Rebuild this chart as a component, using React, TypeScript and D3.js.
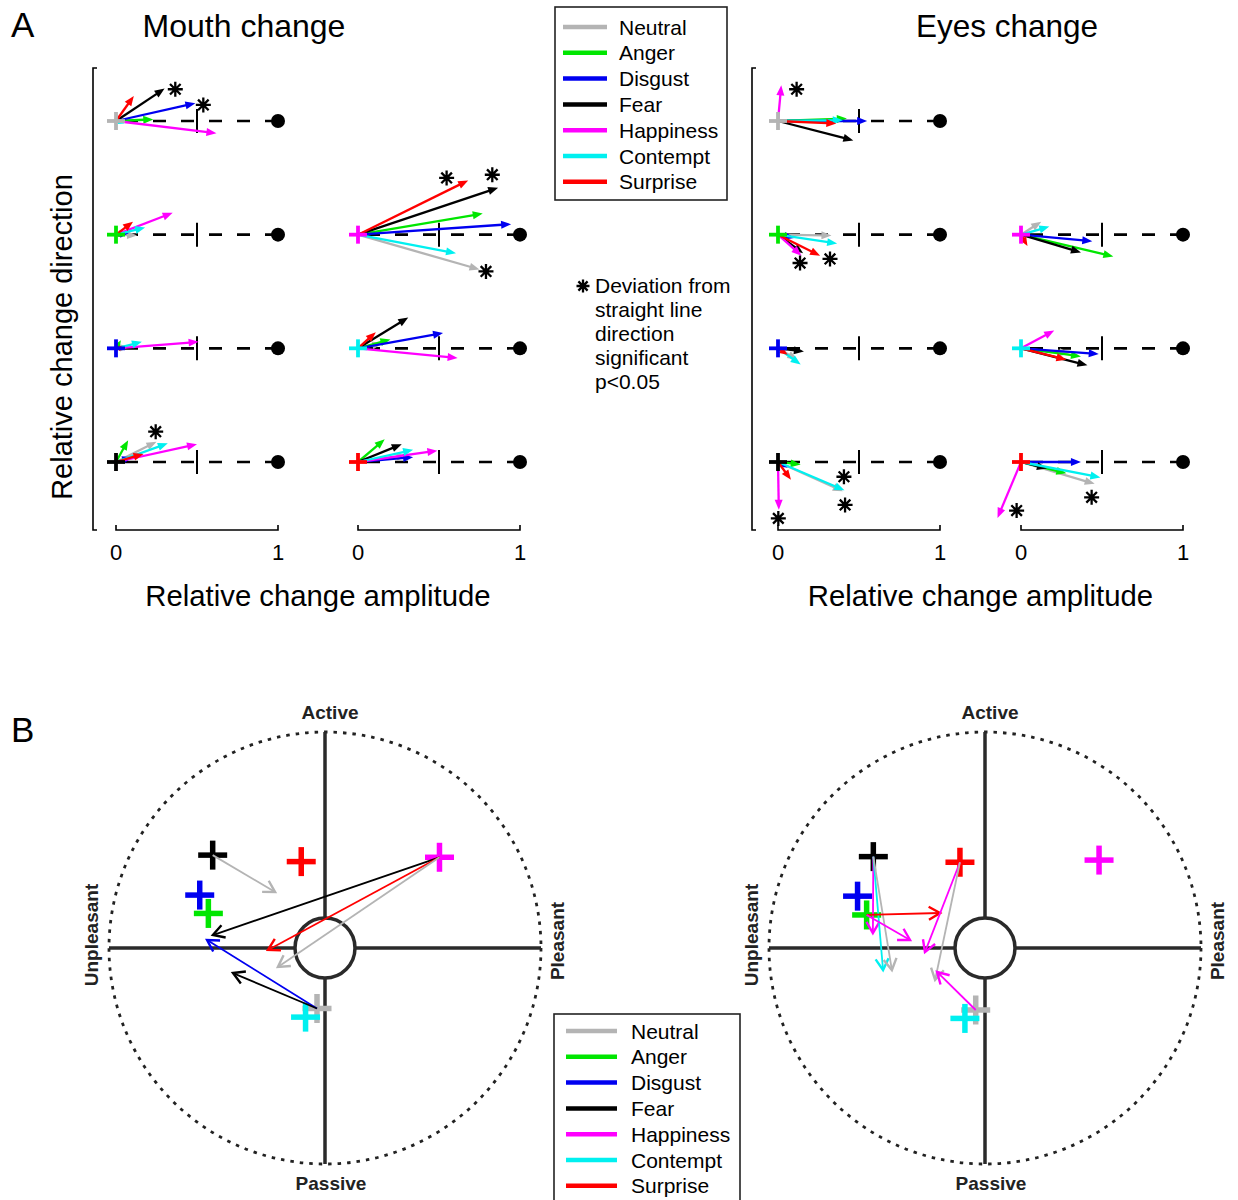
import React from 'react';
import * as d3 from 'd3';

// emotions, in legend order
const emotions = ['Neutral', 'Anger', 'Disgust', 'Fear', 'Happiness', 'Contempt', 'Surprise'];
const emotionColors: Record<string, string> = {
  Neutral: '#b4b4b4',
  Anger: '#00e600',
  Disgust: '#0000f0',
  Fear: '#000000',
  Happiness: '#ff00ff',
  Contempt: '#00f0f0',
  Surprise: '#ff0000',
};

// Panel A: [target emotion, relative amplitude, relative direction] per start emotion
const mouthArrows: Record<string, [string, number, number][]> = {
  Neutral: [['Anger', 0.23, 0.01], ['Disgust', 0.49, 0.11], ['Fear', 0.3, 0.2], ['Happiness', 0.62, -0.075], ['Contempt', 0.05, -0.015], ['Surprise', 0.11, 0.155]],
  Anger: [['Neutral', 0.13, -0.005], ['Disgust', 0.08, 0.01], ['Fear', 0.05, 0.0], ['Happiness', 0.35, 0.135], ['Contempt', 0.18, 0.045], ['Surprise', 0.105, 0.08]],
  Disgust: [['Neutral', 0.08, 0.01], ['Anger', 0.03, 0.05], ['Fear', 0.04, 0.01], ['Happiness', 0.51, 0.04], ['Contempt', 0.16, 0.04], ['Surprise', 0.06, 0.0]],
  Fear: [['Neutral', 0.25, 0.125], ['Anger', 0.075, 0.135], ['Disgust', 0.1, 0.03], ['Happiness', 0.5, 0.11], ['Contempt', 0.32, 0.115], ['Surprise', 0.17, 0.05]],
  Happiness: [['Neutral', 0.75, -0.215], ['Anger', 0.77, 0.13], ['Disgust', 0.945, 0.065], ['Fear', 0.865, 0.29], ['Contempt', 0.605, -0.115], ['Surprise', 0.68, 0.335]],
  Contempt: [['Neutral', 0.15, 0.03], ['Anger', 0.2, 0.055], ['Disgust', 0.525, 0.095], ['Fear', 0.31, 0.19], ['Happiness', 0.615, -0.06], ['Surprise', 0.11, 0.1]],
  Surprise: [['Neutral', 0.3, 0.04], ['Anger', 0.165, 0.14], ['Disgust', 0.34, 0.03], ['Fear', 0.27, 0.11], ['Happiness', 0.49, 0.07], ['Contempt', 0.34, 0.075]],
};

const eyesArrows: Record<string, [string, number, number][]> = {
  Neutral: [['Anger', 0.425, 0.015], ['Disgust', 0.55, 0.0], ['Fear', 0.465, -0.12], ['Happiness', 0.02, 0.22], ['Contempt', 0.4, 0.005], ['Surprise', 0.36, -0.015]],
  Anger: [['Neutral', 0.33, -0.005], ['Disgust', 0.1, -0.02], ['Fear', 0.155, -0.115], ['Happiness', 0.145, -0.13], ['Contempt', 0.365, -0.055], ['Surprise', 0.26, -0.13]],
  Disgust: [['Neutral', 0.12, -0.07], ['Anger', 0.05, -0.01], ['Fear', 0.16, -0.02], ['Happiness', 0.03, -0.02], ['Contempt', 0.14, -0.1], ['Surprise', 0.06, -0.04]],
  Fear: [['Neutral', 0.4, -0.18], ['Anger', 0.14, -0.015], ['Disgust', 0.06, -0.035], ['Happiness', 0.005, -0.295], ['Contempt', 0.41, -0.175], ['Surprise', 0.08, -0.11]],
  Happiness: [['Neutral', 0.125, 0.08], ['Anger', 0.57, -0.135], ['Disgust', 0.44, -0.04], ['Fear', 0.37, -0.11], ['Contempt', 0.175, 0.05], ['Surprise', 0.04, -0.07]],
  Contempt: [['Neutral', 0.3, -0.03], ['Anger', 0.37, -0.05], ['Disgust', 0.48, -0.035], ['Fear', 0.41, -0.105], ['Happiness', 0.205, 0.11], ['Surprise', 0.28, -0.07]],
  Surprise: [['Neutral', 0.455, -0.135], ['Anger', 0.28, -0.07], ['Disgust', 0.37, 0.0], ['Fear', 0.16, -0.04], ['Happiness', -0.145, -0.345], ['Contempt', 0.49, -0.095]],
};

// significance markers (asterisks), in the same amplitude/direction units
const mouthSig: [string, number, number][] = [
  ['Neutral', 0.366, 0.196], ['Neutral', 0.539, 0.099],
  ['Happiness', 0.547, 0.35], ['Happiness', 0.829, 0.37], ['Happiness', 0.79, -0.227],
  ['Fear', 0.245, 0.187],
];
const eyesSig: [string, number, number][] = [
  ['Neutral', 0.115, 0.196],
  ['Anger', 0.136, -0.175], ['Anger', 0.321, -0.15],
  ['Fear', 0.002, -0.348], ['Fear', 0.407, -0.091], ['Fear', 0.414, -0.265],
  ['Surprise', -0.027, -0.3], ['Surprise', 0.436, -0.218],
];

// Panel B: circumplex positions [valence, arousal]
const mouthCircumplex: Record<string, [number, number]> = {
  Neutral: [-0.037, -0.28], Anger: [-0.54, 0.16], Disgust: [-0.58, 0.245], Fear: [-0.52, 0.43],
  Happiness: [0.53, 0.42], Contempt: [-0.09, -0.32], Surprise: [-0.11, 0.4],
};
const eyesCircumplex: Record<string, [number, number]> = {
  Neutral: [-0.043, -0.287], Anger: [-0.548, 0.153], Disgust: [-0.59, 0.24], Fear: [-0.517, 0.423],
  Happiness: [0.528, 0.407], Contempt: [-0.093, -0.326], Surprise: [-0.116, 0.397],
};
// [start emotion, arrow emotion, end valence, end arousal]
const mouthTransitions: [string, string, number, number][] = [
  ['Fear', 'Neutral', -0.231, 0.259],
  ['Happiness', 'Fear', -0.519, 0.06],
  ['Happiness', 'Surprise', -0.264, -0.009],
  ['Happiness', 'Neutral', -0.218, -0.088],
  ['Neutral', 'Disgust', -0.546, 0.037],
  ['Neutral', 'Fear', -0.426, -0.116],
];
const eyesTransitions: [string, string, number, number][] = [
  ['Fear', 'Happiness', -0.519, 0.069],
  ['Fear', 'Contempt', -0.472, -0.102],
  ['Fear', 'Neutral', -0.431, -0.102],
  ['Anger', 'Surprise', -0.208, 0.162],
  ['Anger', 'Happiness', -0.347, 0.037],
  ['Surprise', 'Happiness', -0.278, -0.019],
  ['Surprise', 'Neutral', -0.231, -0.148],
  ['Neutral', 'Happiness', -0.222, -0.111],
];
const crossOrder = ['Neutral', 'Disgust', 'Anger', 'Fear', 'Surprise', 'Happiness', 'Contempt'];

const noteLines = ['Deviation from', 'straight line', 'direction', 'significant', 'p<0.05'];

const FONT = 'Liberation Sans, Arial, Helvetica, sans-serif';

// amplitude / direction scales (relative to each sub-plot origin)
const ampX = d3.scaleLinear().domain([0, 1]).range([0, 162]);
const dirY = d3.scaleLinear().domain([0, 1]).range([0, -162]);
const rowY = d3.scaleLinear().domain([0, 3]).range([121, 462]);
// circumplex scale (radius units)
const circ = d3.scaleLinear().domain([-1, 1]).range([-216, 216]);

function filledArrow(x0: number, y0: number, x1: number, y1: number, color: string, key: string) {
  const dx = x1 - x0, dy = y1 - y0;
  const L = Math.hypot(dx, dy);
  if (L < 0.5) return null;
  const ux = dx / L, uy = dy / L;
  const hl = Math.min(10, L * 0.7), hw = hl * 0.4;
  const bx = x1 - ux * hl, by = y1 - uy * hl;
  const pts = [[x1, y1], [bx - uy * hw, by + ux * hw], [bx + uy * hw, by - ux * hw]];
  return (
    <g key={key}>
      <line x1={x0} y1={y0} x2={bx + ux} y2={by + uy} stroke={color} strokeWidth={2.3} />
      <polygon points={pts.map(p => p.join(',')).join(' ')} fill={color} />
    </g>
  );
}

function openArrow(x0: number, y0: number, x1: number, y1: number, color: string, key: string) {
  const ang = Math.atan2(y1 - y0, x1 - x0);
  const hl = 13, spread = Math.PI / 6;
  const a1 = ang + Math.PI - spread, a2 = ang + Math.PI + spread;
  const d = `M${x1 + hl * Math.cos(a1)},${y1 + hl * Math.sin(a1)}L${x1},${y1}L${x1 + hl * Math.cos(a2)},${y1 + hl * Math.sin(a2)}`;
  return (
    <g key={key}>
      <line x1={x0} y1={y0} x2={x1} y2={y1} stroke={color} strokeWidth={1.8} />
      <path d={d} fill="none" stroke={color} strokeWidth={2.4} />
    </g>
  );
}

function asterisk(cx: number, cy: number, r: number, key: string) {
  const d = d3.range(4).map(i => {
    const a = (i * Math.PI) / 4;
    return `M${cx - r * Math.cos(a)},${cy - r * Math.sin(a)}L${cx + r * Math.cos(a)},${cy + r * Math.sin(a)}`;
  }).join('');
  return <path key={key} d={d} stroke="#000" strokeWidth={2.3} fill="none" />;
}

function cross(cx: number, cy: number, arm: number, w: number, color: string, key: string) {
  return (
    <g key={key} stroke={color} strokeWidth={w}>
      <line x1={cx - arm} y1={cy} x2={cx + arm} y2={cy} />
      <line x1={cx} y1={cy - arm} x2={cx} y2={cy + arm} />
    </g>
  );
}

function PanelA({ cols, axisX, arrows, sig, title, titleX, titleSize }: {
  cols: number[]; axisX: number; arrows: Record<string, [string, number, number][]>;
  sig: [string, number, number][]; title: string; titleX: number; titleSize: number;
}) {
  const place = (i: number) => (i < 4 ? { ox: cols[0], oy: rowY(i) } : { ox: cols[1], oy: rowY(i - 3) });
  return (
    <g>
      <text x={titleX} y={37} fontSize={titleSize} textAnchor="middle">{title}</text>
      {/* y axis bracket */}
      <path d={`M${axisX + 4},68H${axisX}V530H${axisX + 4}`} fill="none" stroke="#000" strokeWidth={1.6} />
      {/* x axes */}
      {cols.map((cx, ci) => (
        <g key={ci}>
          <path d={`M${cx + ampX(0)},525V530H${cx + ampX(1)}V525`} fill="none" stroke="#000" strokeWidth={1.6} />
          {[0, 1].map(t => (
            <text key={t} x={cx + ampX(t)} y={560} fontSize={22} textAnchor="middle">{t}</text>
          ))}
        </g>
      ))}
      <text x={(cols[0] + cols[1] + ampX(1)) / 2} y={606} fontSize={29.3} textAnchor="middle">Relative change amplitude</text>
      {emotions.map((em, i) => {
        const { ox, oy } = place(i);
        return (
          <g key={em}>
            <line x1={ox + ampX(1)} y1={oy} x2={ox + ampX(0)} y2={oy} stroke="#000" strokeWidth={2.6} strokeDasharray="13,15" />
            <line x1={ox + ampX(0.5)} y1={oy - 12} x2={ox + ampX(0.5)} y2={oy + 12} stroke="#000" strokeWidth={2} />
            <circle cx={ox + ampX(1)} cy={oy} r={7} fill="#000" />
            {arrows[em].map(([target, a, dr]) =>
              filledArrow(ox, oy, ox + ampX(a), oy + dirY(dr), emotionColors[target], target))}
            {cross(ox, oy, 9, 3.8, emotionColors[em], 'c')}
            {sig.filter(s => s[0] === em).map((s, j) =>
              asterisk(ox + ampX(s[1]), oy + dirY(s[2]), 7.5, 's' + j))}
          </g>
        );
      })}
    </g>
  );
}

function PanelB({ cx, cy, pos, transitions }: {
  cx: number; cy: number; pos: Record<string, [number, number]>; transitions: [string, string, number, number][];
}) {
  const R = circ(1), r = 30;
  const px = (v: number) => cx + circ(v);
  const py = (a: number) => cy - circ(a);
  return (
    <g>
      <circle cx={cx} cy={cy} r={R} fill="none" stroke="#222" strokeWidth={2.8} strokeDasharray="3.5,6" />
      <g stroke="#2a2a2a" strokeWidth={3.5}>
        <line x1={cx - R} y1={cy} x2={cx - r} y2={cy} />
        <line x1={cx + r} y1={cy} x2={cx + R} y2={cy} />
        <line x1={cx} y1={cy - R} x2={cx} y2={cy - r} />
        <line x1={cx} y1={cy + r} x2={cx} y2={cy + R} />
      </g>
      <circle cx={cx} cy={cy} r={r} fill="none" stroke="#2a2a2a" strokeWidth={3.5} />
      <g fontSize={19} fontWeight="bold" fill="#222" textAnchor="middle">
        <text x={cx + 5} y={cy - R - 13}>Active</text>
        <text x={cx + 6} y={cy + R + 26}>Passive</text>
        <text transform={`translate(${cx - R - 11},${cy - 13}) rotate(-90)`}>Unpleasant</text>
        <text transform={`translate(${cx + R + 23},${cy - 7}) rotate(-90)`}>Pleasant</text>
      </g>
      {crossOrder.map(em => cross(px(pos[em][0]), py(pos[em][1]), 14.5, 5.5, emotionColors[em], em))}
      {transitions.map(([from, col, v, a], i) =>
        openArrow(px(pos[from][0]), py(pos[from][1]), px(v), py(a), emotionColors[col], 't' + i))}
    </g>
  );
}

function Legend({ x, y, w, h, first, lineX0, lineX1, textX }: {
  x: number; y: number; w: number; h: number; first: number; lineX0: number; lineX1: number; textX: number;
}) {
  const row = d3.scaleLinear().domain([0, 1]).range([first, first + 25.8]);
  return (
    <g>
      <rect x={x} y={y} width={w} height={h} fill="#fff" stroke="#222" strokeWidth={1.6} />
      {emotions.map((em, i) => (
        <g key={em}>
          <line x1={lineX0} x2={lineX1} y1={row(i)} y2={row(i)} stroke={emotionColors[em]} strokeWidth={4.5} />
          <text x={textX} y={row(i) + 7.5} fontSize={21}>{em}</text>
        </g>
      ))}
    </g>
  );
}

export default function App() {
  return (
    <div style={{ position: 'absolute', left: 0, top: 0 }}>
      <svg width={1238} height={1200} style={{ display: 'block', fontFamily: FONT }}>
        <rect width={1238} height={1200} fill="#fff" />
        <text x={11} y={37} fontSize={35}>A</text>
        <text x={11} y={742} fontSize={35}>B</text>

        <text transform="translate(72,337) rotate(-90)" fontSize={29} textAnchor="middle">Relative change direction</text>
        <PanelA cols={[116, 358]} axisX={93} arrows={mouthArrows} sig={mouthSig} title="Mouth change" titleX={244} titleSize={32} />
        <PanelA cols={[778, 1021]} axisX={752} arrows={eyesArrows} sig={eyesSig} title="Eyes change" titleX={1007} titleSize={31.5} />

        <Legend x={555} y={7} w={172} h={193} first={27} lineX0={563} lineX1={607} textX={619} />
        {asterisk(583, 286, 6.5, 'note')}
        {noteLines.map((t, i) => (
          <text key={t} x={595} y={293 + i * 24} fontSize={21}>{t}</text>
        ))}

        <PanelB cx={325} cy={948} pos={mouthCircumplex} transitions={mouthTransitions} />
        <PanelB cx={985} cy={948} pos={eyesCircumplex} transitions={eyesTransitions} />
        <Legend x={554} y={1014} w={186} h={200} first={1031} lineX0={566} lineX1={617} textX={631} />
      </svg>
    </div>
  );
}
